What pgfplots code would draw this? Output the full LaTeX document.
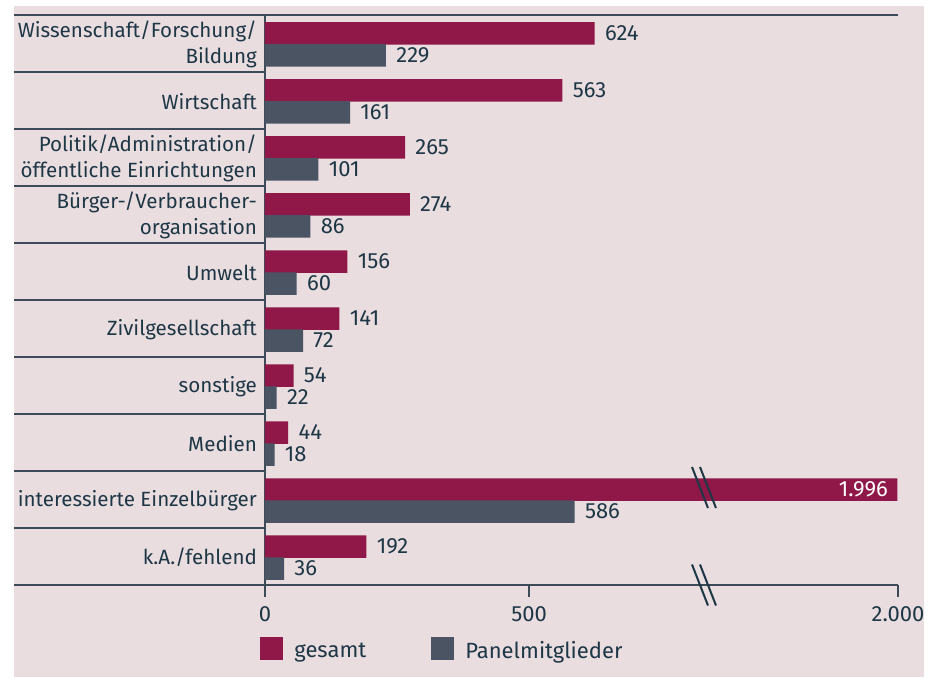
\documentclass[border=0pt]{standalone}
\usepackage{pgfplots}
\pgfplotsset{compat=1.18}
\usepackage{fontspec}
\setmainfont{Fira Sans}
\definecolor{bg}{HTML}{EADDDF}
\definecolor{cred}{HTML}{8F1848}
\definecolor{cgrey}{HTML}{4A5462}
\definecolor{ctext}{HTML}{1E3746}
\definecolor{cline}{HTML}{3C4B57}
\begin{document}
\begin{tikzpicture}[x=1pt,y=1pt]
\useasboundingbox (-132.5,-46) rectangle (334.5,292.5);
\fill[bg] (-125.5,-46) rectangle (329.5,289.5);
\begin{axis}[
  at={(0,0)}, anchor=south west,
  scale only axis, width=316.5pt, height=285pt,
  xmin=0, xmax=2000, ymin=-0.5, ymax=9.5,
  x coord trafo/.code={\pgfmathparse{#1>833 ? 833+(#1-833)*0.31277 : #1}},
  x coord inv trafo/.code={\pgfmathparse{#1>833 ? 833+(#1-833)/0.31277 : #1}},
  xtick={0,500,2000}, xticklabels={0,500,2.000},
  ytick={0,1,...,9},
  yticklabels={k.A./fehlend, interessierte Einzelbürger, Medien, sonstige, Zivilgesellschaft, Umwelt, Bürger-/Verbraucher-\\organisation, Politik/Administration/\\öffentliche Einrichtungen, Wirtschaft, Wissenschaft/Forschung/\\Bildung},
  axis x line*=bottom, axis y line*=left,
  axis line style={cline, line width=0.9pt, -},
  tick align=outside, major tick length=6pt,
  xtick style={cline, line width=0.9pt},
  ytick style={draw=none},
  x tick label style={font=\fontsize{11}{13}\selectfont, text=ctext, yshift=-1pt},
  y tick label style={font=\fontsize{10.3}{13}\selectfont, text=ctext, align=right, xshift=5.5pt, yshift=-0.5pt},
  xbar, bar width=11.25pt,
  clip=false,
  nodes near coords, point meta=explicit symbolic,
  nodes near coords style={font=\fontsize{11}{13}\selectfont, text=ctext, anchor=west, inner sep=0pt, xshift=5pt},
  legend columns=2,
  legend style={at={(0,0)}, anchor=north west, xshift=-2.5pt, yshift=-26pt, draw=none, fill=none,
    font=\fontsize{11}{13}\selectfont, text=ctext, inner sep=0pt,
    /tikz/every odd column/.append style={column sep=3.5pt},
    /tikz/every even column/.append style={column sep=30.5pt}},
  legend image code/.code={\fill[#1] (0pt,-4.5pt) rectangle (11.5pt,7pt);},
]
\addplot[fill=cred, draw=none, bar shift=5pt] coordinates {
  (192,0) [192] (1996,1) [{}] (44,2) [44] (54,3) [54] (141,4) [141] (156,5) [156]
  (274,6) [274] (265,7) [265] (563,8) [563] (624,9) [624]};
\addlegendentry{gesamt}
\addplot[fill=cgrey, draw=none, bar shift=-6pt] coordinates {
  (36,0) [36] (586,1) [586] (18,2) [18] (22,3) [22] (72,4) [72] (60,5) [60]
  (86,6) [86] (101,7) [101] (161,8) [161] (229,9) [229]};
\addlegendentry{Panelmitglieder}
\addplot[draw=none, fill=none, bar shift=5pt, forget plot,
  nodes near coords style={anchor=east, text=white, xshift=-9.5pt}] coordinates {(1996,1) [1.996]};
% frame lines
\draw[cline, line width=1.1pt] ([xshift=-125.5pt]axis description cs:0,1) -- (axis description cs:1,1);
\draw[cline, line width=0.9pt] ([xshift=-125.5pt]axis description cs:0,0) -- (axis description cs:0,0);
\pgfplotsinvokeforeach{0.5,1.5,2.5,3.5,4.5,5.5,6.5,7.5,8.5}{
  \draw[cline, line width=0.9pt] ([xshift=-125.5pt]axis cs:0,#1) -- (axis cs:0,#1);
}
% break marks
\draw[ctext, line width=1pt] ([xshift=213.5pt, yshift=16.25pt]axis cs:0,1) -- ++(8pt,-20.5pt);
\draw[ctext, line width=1pt] ([xshift=217.5pt, yshift=16.25pt]axis cs:0,1) -- ++(8pt,-20.5pt);
\draw[ctext, line width=1pt] ([xshift=213.5pt, yshift=10.25pt]axis cs:0,-0.5) -- ++(8pt,-20.5pt);
\draw[ctext, line width=1pt] ([xshift=217.5pt, yshift=10.25pt]axis cs:0,-0.5) -- ++(8pt,-20.5pt);
\end{axis}
\end{tikzpicture}
\end{document}
